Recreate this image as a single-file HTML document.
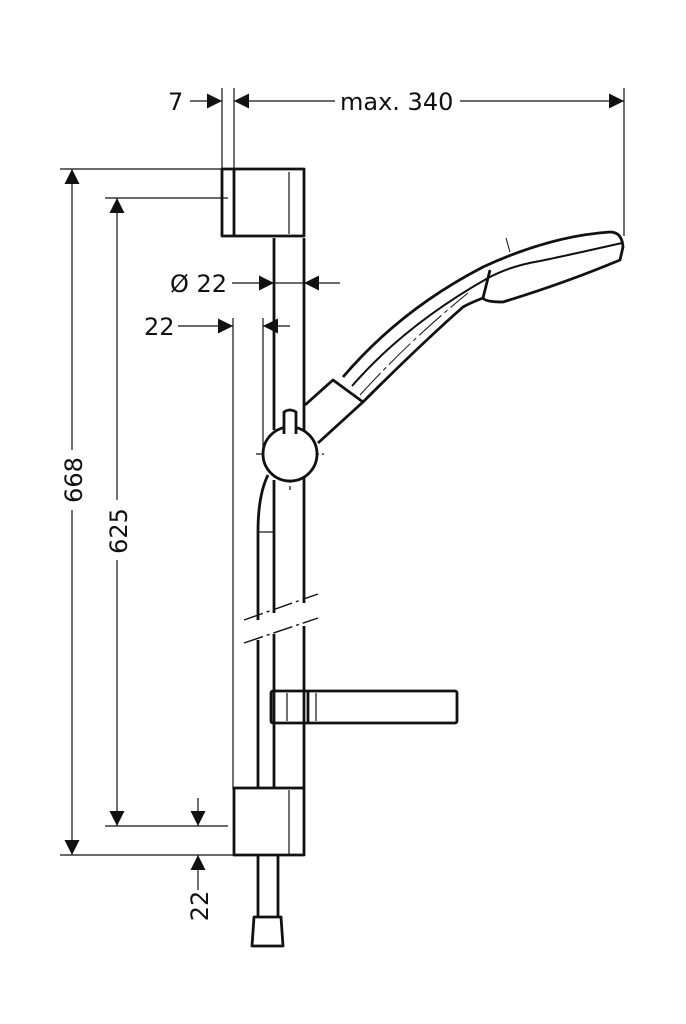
<!DOCTYPE html>
<html><head><style>html,body{margin:0;padding:0;background:#fff}svg{display:block}</style></head>
<body>
<svg width="686" height="1024" viewBox="0 0 686 1024" xmlns="http://www.w3.org/2000/svg" font-family="'DejaVu Sans','Liberation Sans',sans-serif" font-size="24" fill="none" stroke="#111">
<defs>
<marker id="a" viewBox="0 0 10 10" refX="10" refY="5" markerWidth="22" markerHeight="15" markerUnits="userSpaceOnUse" orient="auto"><path d="M0,0L10,5L0,10z" fill="#111" stroke="none"/></marker>
</defs>
<g stroke-width="1.2">
<line x1="60" y1="169" x2="222" y2="169"/>
<line x1="60" y1="855" x2="234" y2="855"/>
<line x1="105" y1="198" x2="228" y2="198"/>
<line x1="105" y1="826" x2="228" y2="826"/>
<line x1="72" y1="450" x2="72" y2="169" marker-end="url(#a)"/>
<line x1="72" y1="510" x2="72" y2="855" marker-end="url(#a)"/>
<line x1="117" y1="500" x2="117" y2="198" marker-end="url(#a)"/>
<line x1="117" y1="560" x2="117" y2="826" marker-end="url(#a)"/>
<line x1="198" y1="798" x2="198" y2="826" marker-end="url(#a)"/>
<line x1="198" y1="890" x2="198" y2="855" marker-end="url(#a)"/>
<line x1="222" y1="88" x2="222" y2="169"/>
<line x1="234" y1="88" x2="234" y2="170"/>
<line x1="624" y1="88" x2="624" y2="236"/>
<line x1="190" y1="101" x2="222" y2="101" marker-end="url(#a)"/>
<line x1="335" y1="101" x2="234" y2="101" marker-end="url(#a)"/>
<line x1="460" y1="101" x2="624" y2="101" marker-end="url(#a)"/>
<line x1="232" y1="283" x2="274" y2="283" marker-end="url(#a)"/>
<line x1="340" y1="283" x2="304" y2="283" marker-end="url(#a)"/>
<line x1="304" y1="283" x2="274" y2="283"/>
<line x1="178" y1="326" x2="233" y2="326" marker-end="url(#a)"/>
<line x1="290" y1="326" x2="263" y2="326" marker-end="url(#a)"/>
<line x1="233" y1="318" x2="233" y2="790"/>
<line x1="263" y1="318" x2="263" y2="448"/>
<line x1="258" y1="532" x2="274" y2="532"/>
<line x1="289" y1="172" x2="289" y2="234"/>
<line x1="289" y1="790" x2="289" y2="854"/>
<line x1="287" y1="693" x2="287" y2="721"/>
<line x1="316" y1="693" x2="316" y2="721"/>
<line x1="256" y1="454" x2="324" y2="454" stroke-dasharray="14,3,2,3"/>
<line x1="290" y1="420" x2="290" y2="490" stroke-dasharray="14,3,2,3"/>
</g>
<g fill="#111" stroke="none">
<text x="168" y="110">7</text>
<text x="340" y="110">max. 340</text>
<text x="170" y="292">Ø 22</text>
<text x="144" y="335">22</text>
<text transform="translate(82,480) rotate(-90)" text-anchor="middle">668</text>
<text transform="translate(127,531) rotate(-90)" text-anchor="middle">625</text>
<text transform="translate(208,906) rotate(-90)" text-anchor="middle">22</text>
</g>
<g stroke-width="2.8" stroke-linejoin="round">
<rect x="222" y="169" width="82" height="67"/>
<line x1="234" y1="169" x2="234" y2="236"/>
<line x1="274" y1="238" x2="274" y2="430"/>
<line x1="304" y1="238" x2="304" y2="440"/>
<line x1="274" y1="480" x2="274" y2="613"/>
<line x1="304" y1="476" x2="304" y2="603"/>
<line x1="274" y1="634" x2="274" y2="788"/>
<line x1="304" y1="626" x2="304" y2="788"/>
<path d="M268,475 Q258,495 258,532 L258,620"/>
<line x1="258" y1="640" x2="258" y2="788"/>
<circle cx="290" cy="454" r="27" fill="#fff"/>
<path d="M284,434 L284,412 Q290,408 296,412 L296,434" fill="#fff"/>
<path d="M305,405 L333,380 L363,402 L318,443"/>
<path d="M343,377 Q400,310 483,267 Q550,236 610,232 Q622,232 623,247 L620,260 Q565,283 503,302 Q485,302 483,298 Q470,303 463,307 Q420,345 363,402"/>
<path d="M352,386 Q405,325 488,278 Q510,266 540,261 Q560,257 622,243" stroke-width="2"/>
<path d="M490,270 L483,298"/>
<rect x="271" y="691" width="186" height="32" rx="2"/>
<line x1="308" y1="691" x2="308" y2="723"/>
<rect x="234" y="788" width="70" height="67"/>
<line x1="258" y1="855" x2="258" y2="917"/>
<line x1="278" y1="855" x2="278" y2="917"/>
<path d="M254,917 L281,917 L283,946 L252,946 Z"/>
</g>
<g stroke-width="1.4" stroke-dasharray="20,4,3,4">
<line x1="244" y1="620" x2="318" y2="594"/>
<line x1="244" y1="643" x2="318" y2="618"/>
</g>
<path d="M360,395 Q410,340 468,293" stroke-width="1" stroke-dasharray="30,4,4,4"/>
<path d="M506,238 L510,252" stroke-width="1"/>
</svg>
</body></html>
